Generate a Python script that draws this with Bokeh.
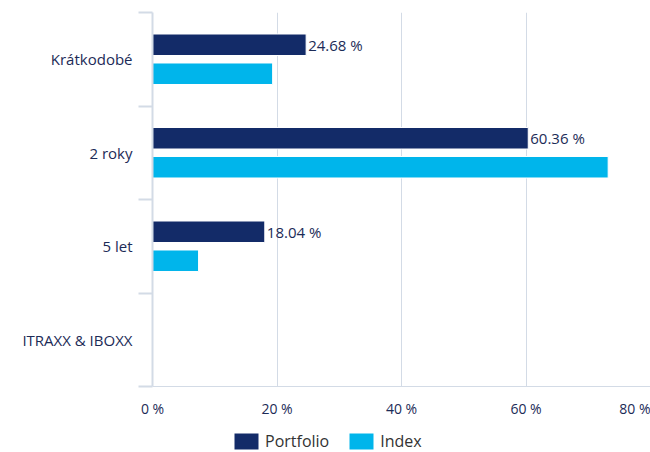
from bokeh.plotting import figure
from bokeh.layouts import column
from bokeh.models import ColumnDataSource, Range1d, FixedTicker, Legend, LegendItem
from bokeh.embed import file_html
from bokeh.resources import INLINE
from bokeh.core.properties import value

categories = ["Krátkodobé", "2 roky", "5 let", "ITRAXX & IBOXX"]
portfolio = [24.68, 60.36, 18.04, 0.0]
index_vals = [19.3, 73.2, 7.4, 0.0]
series_names = ["Portfolio", "Index"]
x_ticks = [0, 20, 40, 60, 80]
x_tick_labels = ["0 %", "20 %", "40 %", "60 %", "80 %"]

NAVY = "#132b68"
CYAN = "#00b5eb"
TEXT = "#1c2b57"
LEG_TEXT = "#333333"
GRID = "#d3dbe6"
FONT = "Open Sans"

n = len(categories)
idx = list(range(n))
bounds = [i - 0.5 for i in range(n + 1)]
OFF = 0.155
BAR_H = 0.23

src_p = ColumnDataSource(dict(y=[i - OFF for i in idx], v=portfolio))
src_i = ColumnDataSource(dict(y=[i + OFF for i in idx], v=index_vals))
lab = [(i, v) for i, v in zip(idx, portfolio) if v > 0]
src_l = ColumnDataSource(dict(y=[i - OFF for i, v in lab], v=[v for i, v in lab],
                              t=[f"{v:.2f} %" for i, v in lab]))

p = figure(width=650, height=430, output_backend="svg", toolbar_location=None,
           x_range=Range1d(0, 80), y_range=Range1d(n - 0.5, -0.5),
           min_border_left=152, min_border_right=0, min_border_top=12, min_border_bottom=44)
p.outline_line_color = None
p.background_fill_color = "white"

r1 = p.hbar(y="y", right="v", left=0, height=BAR_H, source=src_p,
            fill_color=NAVY, line_color="white", line_width=1)
r2 = p.hbar(y="y", right="v", left=0, height=BAR_H, source=src_i,
            fill_color=CYAN, line_color="white", line_width=1)
p.text(x="v", y="y", text="t", source=src_l, x_offset=2, text_baseline="middle",
       text_align="left", text_font=value(FONT), text_font_size="15px", text_color=TEXT)

# x axis
xa = p.xaxis[0]
xa.ticker = FixedTicker(ticks=x_ticks)
xa.major_label_overrides = dict(zip(x_ticks, x_tick_labels))
xa.axis_line_color = GRID
xa.axis_line_width = 1
xa.major_tick_line_color = None
xa.minor_tick_line_color = None
xa.major_tick_out = 0
xa.major_label_standoff = 12
xa.major_label_text_font = FONT
xa.major_label_text_font_size = "14px"
xa.major_label_text_color = TEXT

# y axis
ya = p.yaxis[0]
ya.ticker = FixedTicker(ticks=idx, minor_ticks=bounds)
ya.major_label_overrides = {i: c for i, c in zip(idx, categories)}
ya.axis_line_color = GRID
ya.axis_line_width = 2
ya.major_tick_line_color = None
ya.major_tick_out = 0
ya.major_tick_in = 0
ya.minor_tick_line_color = GRID
ya.minor_tick_line_width = 2
ya.minor_tick_out = 14
ya.minor_tick_in = 0
ya.major_label_standoff = 6
ya.major_label_text_font = FONT
ya.major_label_text_font_size = "15px"
ya.major_label_text_color = TEXT

p.xgrid.ticker = FixedTicker(ticks=x_ticks)
p.xgrid.grid_line_color = GRID
p.ygrid.grid_line_color = None

# legend strip (frame aligned with the chart frame)
lg = figure(width=650, height=22, output_backend="svg", toolbar_location=None,
            x_range=Range1d(0, 1), y_range=Range1d(0, 1),
            min_border_left=152, min_border_right=0, min_border_top=0, min_border_bottom=0,
            x_axis_location=None, y_axis_location=None)
lg.outline_line_color = None
lg.grid.visible = False
e = ColumnDataSource(dict(y=[5], v=[0]))
l1 = lg.hbar(y="y", right="v", left=0, height=0.5, source=e, fill_color=NAVY, line_color=None)
l2 = lg.hbar(y="y", right="v", left=0, height=0.5, source=e, fill_color=CYAN, line_color=None)
legend = Legend(items=[LegendItem(label=series_names[0], renderers=[l1]),
                       LegendItem(label=series_names[1], renderers=[l2])],
                orientation="horizontal", location=(79, 0),
                glyph_width=30, glyph_height=20, label_standoff=4, spacing=17,
                padding=0, margin=0, border_line_color=None, background_fill_alpha=0,
                label_text_font=FONT, label_text_font_size="16px", label_text_color=LEG_TEXT)
lg.add_layout(legend, "center")

layout = column(p, lg, spacing=0)
open("out.html", "w").write(file_html(layout, INLINE))
